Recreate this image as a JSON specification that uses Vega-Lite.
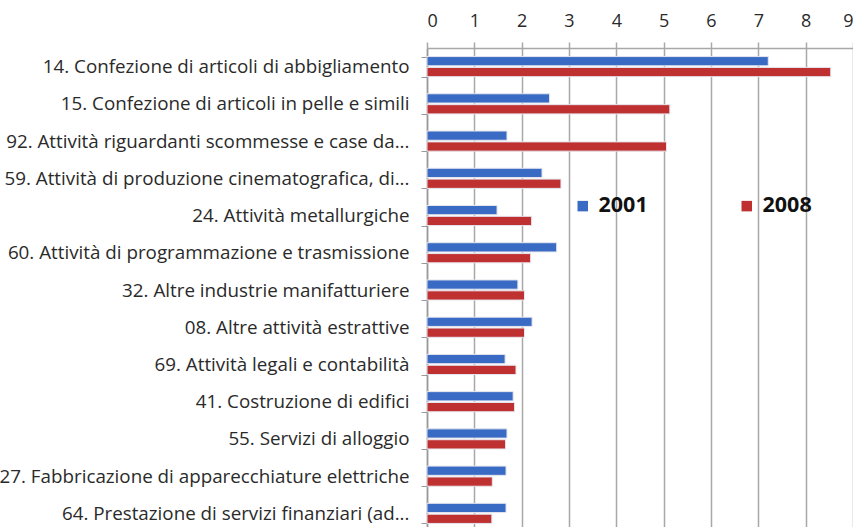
{
  "$schema": "https://vega.github.io/schema/vega-lite/v6.json",
  "width": 426,
  "height": 484,
  "autosize": {"type": "none"},
  "padding": {"left": 427, "top": 48, "right": 0, "bottom": 0},
  "background": "white",
  "config": {"view": {"stroke": null}, "font": "Open Sans"},
  "data": {
    "values": [
      {"settore": "14. Confezione di articoli di abbigliamento", "anno": "2001", "valore": 7.21},
      {"settore": "14. Confezione di articoli di abbigliamento", "anno": "2008", "valore": 8.53},
      {"settore": "15. Confezione di articoli in pelle e simili", "anno": "2001", "valore": 2.59},
      {"settore": "15. Confezione di articoli in pelle e simili", "anno": "2008", "valore": 5.13},
      {"settore": "92. Attività riguardanti scommesse e case da...", "anno": "2001", "valore": 1.69},
      {"settore": "92. Attività riguardanti scommesse e case da...", "anno": "2008", "valore": 5.06},
      {"settore": "59. Attività di produzione cinematografica, di...", "anno": "2001", "valore": 2.43},
      {"settore": "59. Attività di produzione cinematografica, di...", "anno": "2008", "valore": 2.83},
      {"settore": "24. Attività metallurgiche", "anno": "2001", "valore": 1.48},
      {"settore": "24. Attività metallurgiche", "anno": "2008", "valore": 2.21},
      {"settore": "60. Attività di programmazione e trasmissione", "anno": "2001", "valore": 2.74},
      {"settore": "60. Attività di programmazione e trasmissione", "anno": "2008", "valore": 2.19},
      {"settore": "32. Altre industrie manifatturiere", "anno": "2001", "valore": 1.92},
      {"settore": "32. Altre industrie manifatturiere", "anno": "2008", "valore": 2.06},
      {"settore": "08. Altre attività estrattive", "anno": "2001", "valore": 2.22},
      {"settore": "08. Altre attività estrattive", "anno": "2008", "valore": 2.06},
      {"settore": "69. Attività legali e contabilità", "anno": "2001", "valore": 1.65},
      {"settore": "69. Attività legali e contabilità", "anno": "2008", "valore": 1.88},
      {"settore": "41. Costruzione di edifici", "anno": "2001", "valore": 1.82},
      {"settore": "41. Costruzione di edifici", "anno": "2008", "valore": 1.85},
      {"settore": "55. Servizi di alloggio", "anno": "2001", "valore": 1.69},
      {"settore": "55. Servizi di alloggio", "anno": "2008", "valore": 1.66},
      {"settore": "27. Fabbricazione di apparecchiature elettriche", "anno": "2001", "valore": 1.67},
      {"settore": "27. Fabbricazione di apparecchiature elettriche", "anno": "2008", "valore": 1.38},
      {"settore": "64. Prestazione di servizi finanziari (ad...", "anno": "2001", "valore": 1.67},
      {"settore": "64. Prestazione di servizi finanziari (ad...", "anno": "2008", "valore": 1.37}
    ]
  },
  "mark": {"type": "bar", "stroke": "#e6e6ee", "strokeWidth": 1},
  "encoding": {
    "y": {
      "field": "settore",
      "type": "nominal",
      "sort": null,
      "scale": {"paddingInner": 0.46, "paddingOuter": 0.23},
      "axis": {
        "title": null,
        "labelFontSize": 18.8,
        "labelColor": "#2a2a2a",
        "labelLimit": 0,
        "labelPadding": 12,
        "tickBand": "extent",
        "tickSize": 6,
        "tickColor": "#999999",
        "domainColor": "#999999",
        "domainWidth": 1.5
      }
    },
    "yOffset": {"field": "anno", "type": "nominal", "scale": {"paddingInner": 0.15}},
    "x": {
      "field": "valore",
      "type": "quantitative",
      "scale": {"domain": [0, 9], "nice": false},
      "axis": {
        "orient": "top",
        "title": null,
        "values": [0, 1, 2, 3, 4, 5, 6, 7, 8, 9],
        "grid": true,
        "gridColor": "#a8a8a8",
        "gridWidth": 1.5,
        "tickColor": "#a8a8a8",
        "tickWidth": 1.5,
        "tickSize": 6,
        "domainColor": "#a8a8a8",
        "domainWidth": 1.5,
        "labelFontSize": 18,
        "labelColor": "#2a2a2a",
        "labelPadding": 12
      }
    },
    "color": {
      "field": "anno",
      "type": "nominal",
      "scale": {"domain": ["2001", "2008"], "range": ["#3a6bc4", "#bf3030"]},
      "legend": {
        "title": null,
        "orient": "none",
        "legendX": 145,
        "legendY": 147,
        "direction": "horizontal",
        "symbolType": "square",
        "symbolSize": 110,
        "symbolStrokeWidth": 0,
        "labelFontSize": 21.5,
        "labelFontWeight": "bold",
        "labelColor": "#111111",
        "columnPadding": 88,
        "labelOffset": 5
      }
    }
  }
}
